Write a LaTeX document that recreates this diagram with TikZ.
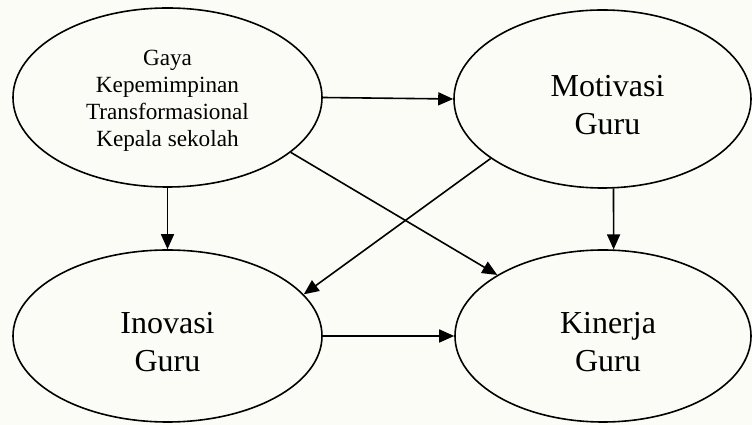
\documentclass[tikz,border=0pt]{standalone}
\usepackage{fontspec}
\setmainfont{Liberation Serif}
\usetikzlibrary{shapes.geometric,arrows.meta}
\definecolor{bgcol}{RGB}{252,252,247}
\begin{document}
\begin{tikzpicture}[x=1pt,y=1pt,
  var/.style={draw=black, line width=1.6pt, ellipse, inner sep=0pt},
  lbl/.style={inner sep=0pt, align=center},
  small/.style={font=\fontsize{23.2}{27}\selectfont},
  big/.style={font=\fontsize{32}{37.5}\selectfont},
  conn/.style={line width=1.6pt, -{Triangle[length=15pt,width=13pt]}}]
\fill[bgcol] (0,0) rectangle (752,425);
\useasboundingbox (0,0) rectangle (752,425);
\node[var, minimum width=309, minimum height=179] (g) at (167.5,327.5) {};
\node[var, minimum width=297, minimum height=178] (m) at (602.5,326) {};
\node[var, minimum width=309, minimum height=172] (i) at (167.5,89) {};
\node[var, minimum width=296, minimum height=172] (k) at (603,89) {};
\node[lbl, small] (gt) at ([yshift=-3]g.center)
  {Gaya\\Kepemimpinan\\Transformasional\\Kepala sekolah};
\node[lbl, big] (mt) at ([xshift=5,yshift=-6]m.center) {Motivasi\\Guru};
\node[lbl, big] (it) at ([yshift=-6]i.center) {Inovasi\\Guru};
\node[lbl, big] (kt) at ([xshift=5,yshift=-6]k.center) {Kinerja\\Guru};
\draw[conn] (g.east) -- (m.west);
\draw[conn] (g.south) -- (i.north);
\draw[conn] (m.-83.3) -- (k.83.4);
\draw[conn] (m.208) -- (i.17);
\draw[conn] (g.-24) -- (k.150);
\draw[conn] (i.east) -- (k.west);
\end{tikzpicture}
\end{document}
